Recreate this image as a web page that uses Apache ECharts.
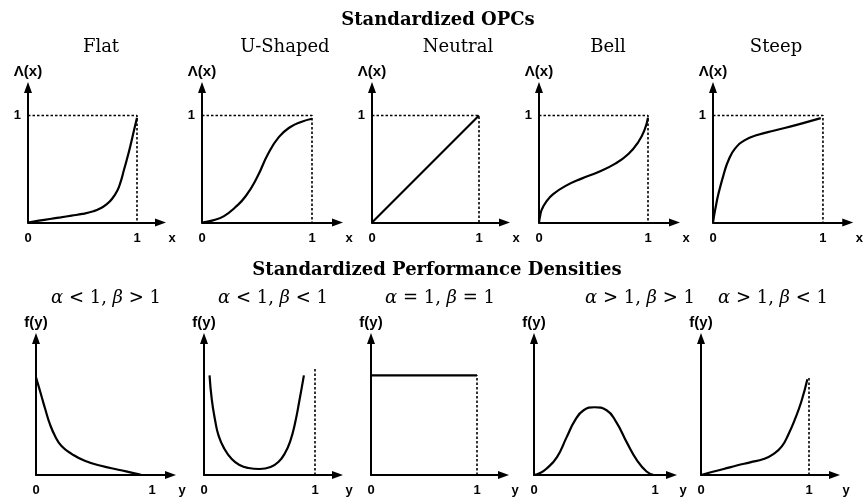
<!DOCTYPE html>
<html>
<head>
<meta charset="utf-8">
<script src="https://cdn.jsdelivr.net/npm/echarts@6/dist/echarts.min.js"></script>
<style>
  html, body { margin: 0; padding: 0; background: #ffffff; }
  #chart { width: 864px; height: 497px; }
</style>
</head>
<body>
<div id="chart"></div>
<script>
// ---------- data ----------
const opcHeading = 'Standardized OPCs';
const densityHeading = 'Standardized Performance Densities';

const opcTitles = ['Flat', 'U-Shaped', 'Neutral', 'Bell', 'Steep'];
const densityTitles = ['α < 1, β > 1', 'α < 1, β < 1', 'α = 1, β = 1', 'α > 1, β > 1', 'α > 1, β < 1'];

// operating-characteristic curves Λ(x)
const opcFlat = [[0, 0], [0.1, 0.017], [0.2, 0.033], [0.3, 0.048], [0.4, 0.064], [0.5, 0.08], [0.6, 0.105],
  [0.66, 0.13], [0.72, 0.17], [0.77, 0.22], [0.82, 0.3], [0.85, 0.38], [0.88, 0.49], [0.91, 0.6],
  [0.94, 0.72], [0.97, 0.85], [1, 0.98]];
const opcUShaped = [[0, 0], [0.1, 0.02], [0.2, 0.06], [0.3, 0.14], [0.4, 0.25], [0.5, 0.42], [0.6, 0.64],
  [0.7, 0.8], [0.8, 0.89], [0.9, 0.94], [1, 0.97]];
const opcNeutral = [[0, 0], [1, 1]];
const opcBell = [[0, 0], [0.01, 0.06], [0.025, 0.12], [0.07, 0.2], [0.13, 0.265], [0.24, 0.34], [0.39, 0.41],
  [0.54, 0.47], [0.7, 0.55], [0.82, 0.64], [0.91, 0.75], [0.97, 0.87], [1, 0.98]];
const opcSteep = [[0, 0], [0.02, 0.12], [0.05, 0.27], [0.1, 0.46], [0.14, 0.58], [0.2, 0.69], [0.29, 0.77],
  [0.41, 0.82], [0.56, 0.86], [0.77, 0.915], [0.98, 0.975]];

// performance densities f(y)
const densA = [[0, 0.98], [0.023, 0.89], [0.05, 0.78], [0.08, 0.66], [0.12, 0.51], [0.165, 0.39], [0.22, 0.29],
  [0.31, 0.21], [0.42, 0.143], [0.56, 0.093], [0.71, 0.053], [0.85, 0.017], [0.91, 0]];
const densB = [[0.05, 1.0], [0.07, 0.76], [0.1, 0.55], [0.13, 0.4], [0.18, 0.27], [0.25, 0.16], [0.32, 0.1],
  [0.4, 0.07], [0.5, 0.06], [0.6, 0.08], [0.67, 0.13], [0.73, 0.22], [0.78, 0.35], [0.82, 0.52],
  [0.86, 0.75], [0.9, 1.0]];
const densC = [[0, 1], [1, 1]];
const densD = [[0, 0], [0.05, 0.02], [0.1, 0.06], [0.19, 0.18], [0.27, 0.38], [0.34, 0.55], [0.41, 0.65],
  [0.5, 0.68], [0.6, 0.65], [0.68, 0.53], [0.77, 0.32], [0.85, 0.15], [0.93, 0.035], [0.99, 0]];
const densE = [[0, 0], [0.1, 0.03], [0.21, 0.06], [0.33, 0.095], [0.455, 0.127], [0.58, 0.16], [0.67, 0.21],
  [0.75, 0.29], [0.81, 0.41], [0.87, 0.56], [0.93, 0.74], [0.985, 0.96]];

// dotted reference lines
const opcGuide = [[0, 1], [1, 1], [1, 0]];
const densGuideB = [[1, 0], [1, 1.08]];
const densGuideC = [[1, 0], [1, 1]];
const densGuideE = [[1, 0], [1, 0.98]];

const xTicks = [0, 1];
const opcYTicks = [1];

// ---------- layout ----------
const SANS = '"Liberation Sans", Arial, sans-serif';
const SERIF = '"DejaVu Serif", serif';
const HEAD = 11;           // arrow head length, px
const SMOOTH = 0.5;

const topRow = { axisY: 222.5, unitY: 107, tipY: 82, yName: 'Λ(x)', xName: 'x', yTicks: opcYTicks };
const botRow = { axisY: 475.5, unitY: 100, tipY: 333, yName: 'f(y)', xName: 'y', yTicks: [] };

// left: y-axis position, unit: px per x unit, tip: x of the arrow tip
const panels = [
  { row: topRow, left: 28,  unit: 109, tip: 166, curve: opcFlat,    guide: opcGuide, smooth: SMOOTH },
  { row: topRow, left: 202, unit: 110, tip: 343, curve: opcUShaped, guide: opcGuide, smooth: SMOOTH },
  { row: topRow, left: 372, unit: 107, tip: 510, curve: opcNeutral, guide: opcGuide, smooth: false },
  { row: topRow, left: 539, unit: 109, tip: 680, curve: opcBell,    guide: opcGuide, smooth: SMOOTH },
  { row: topRow, left: 713, unit: 113, tip: 857, curve: opcSteep,   guide: opcGuide, smooth: SMOOTH },
  { row: botRow, left: 36,  unit: 116, tip: 176, curve: densA, guide: null,       smooth: SMOOTH },
  { row: botRow, left: 204, unit: 111, tip: 343, curve: densB, guide: densGuideB, smooth: SMOOTH },
  { row: botRow, left: 371, unit: 106, tip: 509, curve: densC, guide: densGuideC, smooth: false },
  { row: botRow, left: 534, unit: 121, tip: 677, curve: densD, guide: null,       smooth: SMOOTH },
  { row: botRow, left: 701, unit: 108, tip: 840, curve: densE, guide: densGuideE, smooth: SMOOTH }
];

const grid = [], xAxis = [], yAxis = [], series = [];

panels.forEach((p, i) => {
  const r = p.row;
  const width = p.tip - p.left - HEAD / 2;
  const height = r.axisY - r.tipY - HEAD / 2;
  grid.push({ left: p.left, top: r.axisY - height, width: width, height: height, containLabel: false });

  const axisLine = {
    show: true, onZero: false,
    symbol: ['none', 'triangle'], symbolSize: [8, HEAD],
    lineStyle: { color: '#000', width: 2 }
  };
  const labelFont = { color: '#000', fontFamily: SANS, fontSize: 13, fontWeight: 'bold' };
  xAxis.push({
    type: 'value', gridIndex: i, min: 0, max: width / p.unit,
    axisLine: axisLine,
    axisTick: { show: false }, splitLine: { show: false },
    axisLabel: Object.assign({ customValues: xTicks, margin: 9, formatter: v => String(v) }, labelFont),
    name: r.xName, nameLocation: 'end', nameGap: 8,
    nameTextStyle: Object.assign({ verticalAlign: 'top', padding: [9, 0, 0, 0] }, labelFont)
  });
  yAxis.push({
    type: 'value', gridIndex: i, min: 0, max: height / r.unitY,
    axisLine: axisLine,
    axisTick: { show: false }, splitLine: { show: false },
    axisLabel: Object.assign({ show: r.yTicks.length > 0, customValues: r.yTicks, margin: 7,
      formatter: v => String(v) }, labelFont),
    name: r.yName, nameLocation: 'end', nameGap: 8,
    nameTextStyle: Object.assign({ align: 'center' }, labelFont, { fontSize: 15 })
  });

  if (p.guide) {
    series.push({
      type: 'line', xAxisIndex: i, yAxisIndex: i, data: p.guide,
      showSymbol: false, silent: true, animation: false,
      lineStyle: { color: '#000', width: 1.6, type: [2.5, 2] }
    });
  }
  series.push({
    type: 'line', xAxisIndex: i, yAxisIndex: i, data: p.curve,
    smooth: p.smooth,
    showSymbol: false, silent: true, animation: false,
    lineStyle: { color: '#000', width: 2.2 }
  });
});

// headings and panel captions
function greekRich(s) {
  return s.replace(/([αβ])/g, '{g|$1}');
}
const graphic = [
  { type: 'text', x: 438, y: 20, style: { text: opcHeading, font: 'bold 18px ' + SERIF,
      fill: '#000', align: 'center', verticalAlign: 'middle' } },
  { type: 'text', x: 437, y: 270, style: { text: densityHeading, font: 'bold 18px ' + SERIF,
      fill: '#000', align: 'center', verticalAlign: 'middle' } }
];
const opcCenters = [101, 285, 458, 608, 776];
opcTitles.forEach((t, i) => graphic.push({
  type: 'text', x: opcCenters[i], y: 47,
  style: { text: t, font: '18px ' + SERIF, fill: '#000', align: 'center', verticalAlign: 'middle' }
}));
const densCenters = [106, 273, 440, 640, 773];
densityTitles.forEach((t, i) => graphic.push({
  type: 'text', x: densCenters[i], y: 298,
  style: {
    text: greekRich(t), font: '18px ' + SERIF, fill: '#000', align: 'center', verticalAlign: 'middle',
    rich: { g: { font: 'italic 18px ' + SERIF, fill: '#000' } }
  }
}));

const chart = echarts.init(document.getElementById('chart'), null, { renderer: 'canvas' });
chart.setOption({
  backgroundColor: '#ffffff',
  animation: false,
  grid: grid, xAxis: xAxis, yAxis: yAxis, series: series,
  graphic: graphic
});
</script>
</body>
</html>
